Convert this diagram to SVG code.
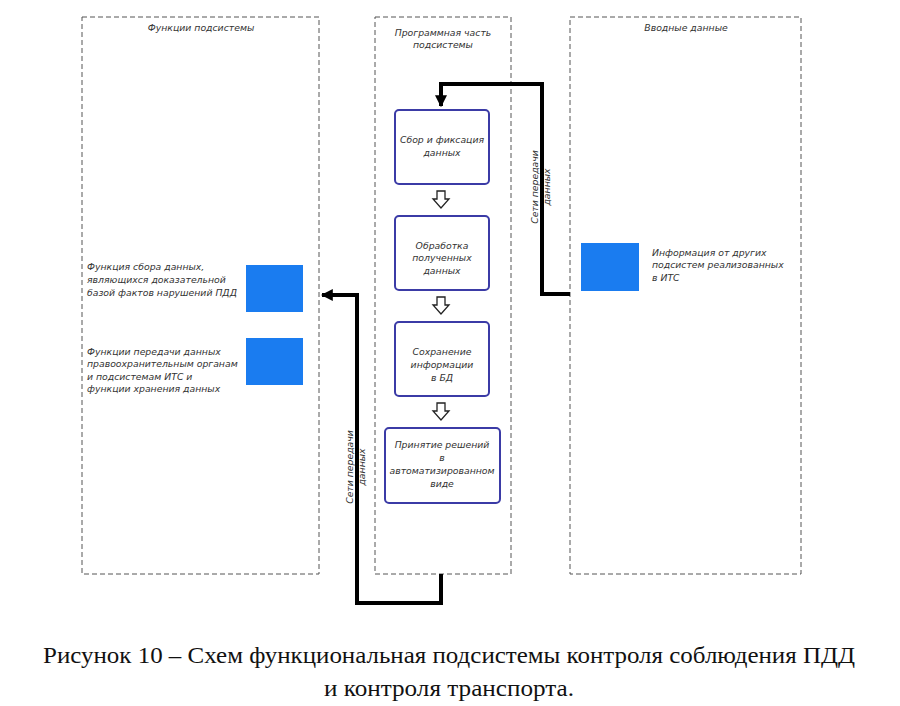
<svg xmlns="http://www.w3.org/2000/svg" width="900" height="706" viewBox="0 0 900 706">
<defs>
<style>
.zone{fill:none;stroke:#555;stroke-width:1;stroke-dasharray:5,3}
.t{font-family:"DejaVu Sans","Liberation Sans",sans-serif;font-style:italic;font-size:9.3px;fill:#333}
.tc{text-anchor:middle}
.step{fill:#fff;stroke:#3b3ba6;stroke-width:2}
.blue{fill:#1a7cf0}
.wire{fill:none;stroke:#000;stroke-width:4;stroke-linejoin:miter}
.hollow{fill:#fff;stroke:#222;stroke-width:1.3}
.cap{font-family:"Liberation Serif",serif;font-size:24px;fill:#111;text-anchor:middle}
</style>
<marker id="ah" viewBox="0 0 10 10" refX="9" refY="5" markerWidth="3" markerHeight="3" orient="auto" markerUnits="strokeWidth">
<path d="M0,0 L10,5 L0,10 z" fill="#000"/>
</marker>
</defs>
<rect width="900" height="706" fill="#fff"/>

<g id="zone-functions">
<rect class="zone" x="82" y="17" width="237" height="557"/>
<text class="t tc" x="201" y="31">Функции подсистемы</text>
</g>
<g id="zone-software">
<rect class="zone" x="375" y="17" width="136" height="557"/>
<text class="t tc" x="443" y="36">Программная часть</text>
<text class="t tc" x="443" y="48">подсистемы</text>
</g>
<g id="zone-input">
<rect class="zone" x="570" y="17" width="231" height="557"/>
<text class="t tc" x="686" y="31">Вводные данные</text>
</g>

<g id="step1">
<rect class="step" x="395" y="110" width="94" height="74" rx="4"/>
<text class="t tc" x="442" y="143">Сбор и фиксация</text>
<text class="t tc" x="442" y="156">данных</text>
</g>
<g id="step2">
<rect class="step" x="395" y="216" width="94" height="74" rx="4"/>
<text class="t tc" x="442" y="249">Обработка</text>
<text class="t tc" x="442" y="261">полученных</text>
<text class="t tc" x="442" y="274">данных</text>
</g>
<g id="step3">
<rect class="step" x="395" y="322" width="94" height="74" rx="4"/>
<text class="t tc" x="442" y="355">Сохранение</text>
<text class="t tc" x="442" y="368">информации</text>
<text class="t tc" x="442" y="381">в БД</text>
</g>
<g id="step4">
<rect class="step" x="385" y="428" width="115" height="75" rx="4"/>
<text class="t tc" x="442" y="448">Принятие решений</text>
<text class="t tc" x="442" y="461">в</text>
<text class="t tc" x="442" y="474">автоматизированном</text>
<text class="t tc" x="442" y="487">виде</text>
</g>

<g id="func-collect">
<rect class="blue" x="246" y="265" width="57" height="47"/>
<text class="t" x="87" y="270">Функция сбора данных,</text>
<text class="t" x="87" y="283">являющихся доказательной</text>
<text class="t" x="87" y="296">базой фактов нарушений ПДД</text>
</g>
<g id="func-transfer">
<rect class="blue" x="246" y="338" width="57" height="47"/>
<text class="t" x="87" y="355">Функции передачи данных</text>
<text class="t" x="87" y="367">правоохранительным органам</text>
<text class="t" x="87" y="380">и подсистемам ИТС и</text>
<text class="t" x="87" y="392">функции хранения данных</text>
</g>
<g id="input-info">
<rect class="blue" x="581" y="243" width="58" height="48"/>
<text class="t" x="652" y="256">Информация от других</text>
<text class="t" x="652" y="268">подсистем реализованных</text>
<text class="t" x="652" y="281">в ИТС</text>
</g>

<g id="connectors">
<path class="wire" d="M570,294 H542 V84 H441 V106" marker-end="url(#ah)"/>
<path class="wire" d="M441,574 V603 H357 V295 H322" marker-end="url(#ah)"/>
<path class="hollow" d="M437,191 h8 v8 h4 l-8,9 l-8,-9 h4 z"/>
<path class="hollow" d="M437,297 h8 v8 h4 l-8,9 l-8,-9 h4 z"/>
<path class="hollow" d="M437,403 h8 v8 h4 l-8,9 l-8,-9 h4 z"/>
<g transform="translate(541,187) rotate(-90)">
<text class="t tc" x="0" y="-3">Сети передачи</text>
<text class="t tc" x="0" y="9">данных</text>
</g>
<g transform="translate(356,467) rotate(-90)">
<text class="t tc" x="0" y="-3">Сети передачи</text>
<text class="t tc" x="0" y="9">данных</text>
</g>
</g>

<g id="caption">
<text class="cap" x="449" y="663" textLength="812" lengthAdjust="spacingAndGlyphs">Рисунок 10 – Схем функциональная подсистемы контроля соблюдения ПДД</text>
<text class="cap" x="449" y="696" textLength="250" lengthAdjust="spacingAndGlyphs">и контроля транспорта.</text>
</g>
</svg>
